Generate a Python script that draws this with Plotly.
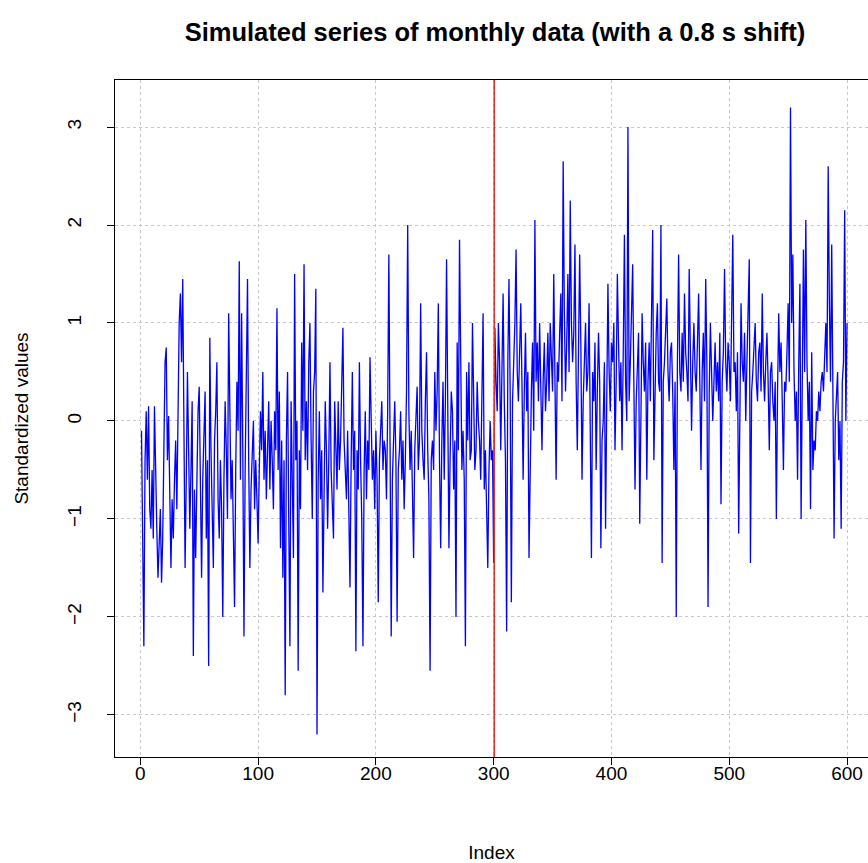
import plotly.graph_objects as go

# Standardized values, index 1..600
values_001_100 = [
    -0.10, -1.00, -2.30, -0.40, 0.10, -0.60, 0.15, -0.90, -1.10, -0.50,
    -1.20, 0.15, -0.70, -1.10, -1.60, -1.30, -0.90, -1.65, -1.20, -0.30,
    0.60, 0.75, -0.40, 0.05, -0.70, -1.50, -0.80, -1.20, -0.60, -0.20,
    -0.90, 0.40, 1.00, 1.30, 0.60, 1.45, -0.30, -1.50, -0.60, 0.50,
    -0.30, -1.10, -0.50, 0.20, -2.40, -0.70, -1.40, -0.50, 0.10, 0.35,
    -0.80, -1.60, -0.60, -0.20, 0.30, -1.20, -0.40, -2.50, 0.85, -0.30,
    -0.90, -1.50, -0.20, 0.10, 0.60, -0.80, -1.20, -0.40, -0.90, -2.00,
    -0.60, 0.20, -0.30, -1.00, 1.10, -0.20, -0.80, -0.40, -1.10, -1.90,
    -0.50, 0.40, -0.10, 1.63, -0.60, 1.10, -0.30, -2.20, -0.50, 0.30,
    1.45, -0.40, -1.50, -0.70, -0.20, 0.00, -0.90, -0.40, -0.80, -1.25,
]
values_101_200 = [
    -0.50, 0.10, -0.30, 0.50, -0.60, -0.10, -0.80, -0.30, 0.20, -0.70,
    0.00, -0.40, -0.90, 0.10, -0.30, 1.15, -0.50, 0.30, -1.30, -0.20,
    -1.60, -0.40, -2.80, -0.20, 0.50, -1.00, -2.30, 0.20, -0.60, -1.40,
    1.50, -0.40, 0.00, -2.55, -0.30, -0.90, 0.80, -0.10, 1.60, -0.40,
    0.20, -0.50, 0.60, 1.00, -0.20, -1.00, 0.30, 0.50, 1.35, -3.20,
    -0.60, 0.10, -0.80, -0.30, -1.75, -0.60, 0.20, -0.30, -1.10, -0.40,
    0.60, -0.50, -0.90, -1.20, 0.20, -0.30, -0.70, 0.20, -0.50, -0.20,
    0.30, 0.95, -0.20, -0.60, -0.80, -0.10, -1.20, -1.70, -0.40, 0.50,
    -0.50, -0.10, -2.35, -0.30, -0.70, 0.60, -0.40, -1.00, -2.30, -0.50,
    0.10, -0.80, -0.20, -0.50, 0.65, 0.00, -0.60, -0.30, -0.90, -0.10,
]
values_201_300 = [
    -0.60, -1.85, -0.40, -0.10, 0.20, -0.50, -0.20, -0.30, -0.80, 0.10,
    1.70, -0.20, -2.20, -0.60, -0.10, 0.20, -0.40, -2.05, -0.50, -0.30,
    0.10, -0.60, -0.20, -0.90, -0.40, 0.30, 2.00, 0.10, -0.50, -0.10,
    -0.70, -1.40, -0.30, 0.10, 0.35, -0.50, -0.20, 1.20, -0.10, -0.40,
    -0.60, 0.20, 0.70, -0.30, -0.80, -2.55, -0.40, -0.20, -0.50, 0.50,
    -0.10, 0.30, 1.20, -0.40, -1.30, -0.20, 0.40, -0.60, 0.20, 1.65,
    -0.30, -1.30, -0.40, 0.30, 0.10, -0.70, -0.20, -2.00, 0.80, -0.30,
    1.85, 0.20, -0.50, -0.10, -0.60, -2.30, 0.50, -0.20, 0.60, -0.40,
    -0.30, 1.00, 0.20, -0.50, -0.30, 0.40, 0.00, -0.20, -0.60, 0.30,
    1.10, -0.70, -0.30, -0.90, -1.50, -0.50, 0.00, -0.40, -0.30, -1.45,
]
values_301_400 = [
    0.95, 0.40, 0.10, 1.00, 0.60, -0.30, 0.50, 1.30, 0.20, -0.40,
    -2.15, 0.60, 1.45, 0.30, -1.85, 0.20, 0.60, 1.00, 1.75, 0.50,
    0.20, 0.80, 1.20, 0.40, -0.60, 0.30, 0.90, 0.10, 0.50, -1.40,
    -0.20, 0.30, 0.80, -0.10, 2.05, 0.40, 0.80, 0.20, 1.00, 0.50,
    -0.30, 0.40, 0.80, 0.10, 0.40, 0.90, 0.20, 1.00, 0.60, 0.30,
    1.50, 0.50, -0.60, 0.60, 0.40, 0.90, 1.30, 0.20, 2.65, 1.10,
    0.30, 0.80, 1.50, 0.50, 2.25, 1.00, 0.60, 0.90, 1.80, 0.40,
    -0.30, 0.70, 1.70, 0.80, -0.60, 0.20, 0.60, 1.00, 0.30, 0.50,
    1.20, 0.20, -1.40, 0.50, 0.20, 0.80, -0.50, 0.30, 0.90, 0.40,
    -1.30, -0.20, 0.00, 0.60, -1.10, 0.20, 1.40, 0.50, 0.10, 0.80,
]
values_401_500 = [
    0.60, 1.00, -0.30, 0.40, 1.50, 0.80, 0.20, 0.60, -0.30, 0.70,
    1.90, 0.40, 0.00, 3.00, 0.20, 0.60, 1.00, 1.60, 0.40, -0.70,
    0.20, 0.50, 0.90, -1.05, 0.30, 1.10, 0.60, 0.30, 0.80, -0.60,
    0.40, 0.80, 0.20, 1.00, 1.95, -0.40, 0.50, 0.90, 1.20, 0.40,
    0.30, 2.00, -1.45, 0.40, 0.60, 0.90, 1.25, 0.50, 0.20, 0.70,
    0.80, 0.30, -0.50, 0.40, -2.00, 0.60, 1.70, 0.50, 0.30, 0.90,
    0.40, 1.30, 0.70, 0.50, 0.20, 1.55, 0.40, -0.10, 0.60, 1.00,
    0.50, 0.30, 0.80, 1.30, 0.40, -0.50, 0.50, 0.90, 0.20, 1.45,
    0.60, -1.90, 0.30, 1.00, 0.50, 0.00, 0.40, 0.80, 0.30, 0.60,
    0.20, 0.90, -0.85, 0.40, 0.70, 1.55, 0.60, 0.30, 0.80, 0.60,
]
values_501_600 = [
    0.20, 0.90, 1.90, 0.50, 0.60, 0.10, 0.70, -1.15, 0.40, 1.20,
    0.60, 0.40, 0.90, 0.00, 0.60, 1.00, 1.65, -1.45, 0.30, 0.50,
    0.80, 1.00, 0.40, 0.20, 0.70, 0.80, 0.30, 1.30, 0.50, 0.20,
    0.60, 0.90, 0.40, -0.30, 0.50, 0.60, 0.20, 0.00, 0.40, -1.00,
    0.30, 1.10, 0.50, 0.80, 0.20, -0.50, 0.40, 0.30, 0.70, 1.20,
    0.40, 3.20, 1.00, 1.70, 0.50, 0.00, 0.30, -0.60, 0.60, 1.40,
    -1.00, 0.20, 1.75, 0.50, 2.05, 0.60, 0.00, 0.40, -0.90, 0.70,
    -0.50, -0.20, -0.30, 0.10, 0.00, 0.30, 0.10, 0.40, 0.50, 0.30,
    0.60, 1.00, 0.50, 2.60, 1.20, 0.40, 1.80, 0.50, -1.20, 0.00,
    0.20, 0.50, -0.40, 0.00, -1.10, 0.40, 0.60, 2.15, 0.00, 1.00,
]

values = (values_001_100 + values_101_200 + values_201_300
          + values_301_400 + values_401_500 + values_501_600)
index = list(range(1, len(values) + 1))

shift_position = 300.5
x_ticks = [0, 100, 200, 300, 400, 500, 600]
y_ticks = [-3, -2, -1, 0, 1, 2, 3]

title_text = "Simulated series of monthly data (with a 0.8 s shift)"
x_title = "Index"
y_title = "Standardized values"

font_family = "Liberation Sans, Arial, Helvetica, sans-serif"

fig = go.Figure()
fig.add_trace(go.Scatter(
    x=index, y=values, mode="lines",
    line=dict(color="blue", width=1.3),
    showlegend=False, hoverinfo="skip",
))

fig.add_shape(type="line", xref="x", yref="paper",
              x0=shift_position, x1=shift_position, y0=0, y1=1,
              line=dict(color="#e0302a", width=1.6))

fig.update_layout(
    width=868, height=863,
    margin=dict(l=115, r=0, t=80, b=106),
    paper_bgcolor="white", plot_bgcolor="white",
    font=dict(family=font_family, color="black", size=19),
    title=dict(text="<b>" + title_text + "</b>", x=495 / 868, xanchor="center",
               y=1 - 32 / 863, yanchor="middle",
               font=dict(size=25.5, family=font_family, color="black")),
)

fig.update_xaxes(
    range=[-21.5, 617.8], tickvals=x_ticks, automargin=False,
    ticks="outside", ticklen=7, tickcolor="black", tickwidth=1,
    showline=True, linecolor="black", linewidth=1, mirror=True,
    showgrid=True, gridcolor="#c8c8c8", griddash="dot", gridwidth=1,
    zeroline=False, tickfont=dict(size=19), ticklabelstandoff=-8,
    title=dict(text=x_title, standoff=62, font=dict(size=19)),
)
fig.update_yaxes(
    range=[-3.43, 3.48], tickvals=y_ticks, tickangle=-90, automargin=False,
    ticks="outside", ticklen=7, tickcolor="black", tickwidth=1,
    showline=True, linecolor="black", linewidth=1, mirror=False,
    showgrid=True, gridcolor="#c8c8c8", griddash="dot", gridwidth=1,
    zeroline=False, tickfont=dict(size=19), ticklabelstandoff=18,
    title=dict(text=y_title, standoff=30, font=dict(size=19)),
)

fig.write_html(
    "out.html",
    config={"displayModeBar": False},
    post_script="document.body.style.margin='0';document.body.style.overflow='hidden';",
)
